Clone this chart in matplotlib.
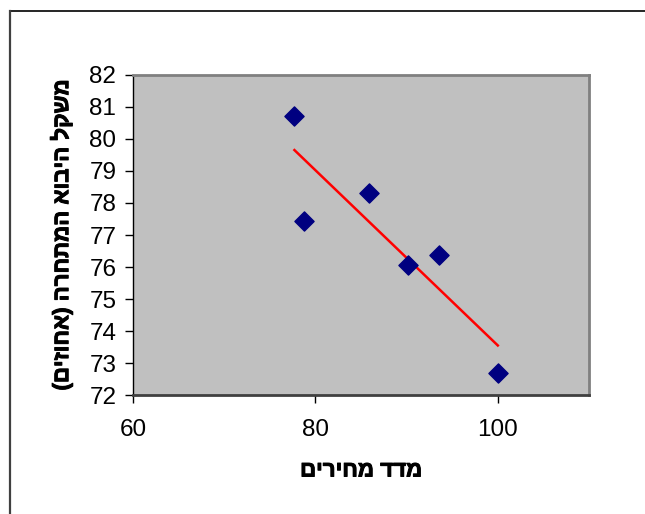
import matplotlib
matplotlib.use("Agg")
import matplotlib.pyplot as plt
import matplotlib.patheffects as pe
from matplotlib.lines import Line2D
import numpy as np

# נתונים (נקראו מהגרף)
price_index = [77.7, 78.8, 85.9, 90.1, 93.5, 100.0]
import_share = [80.71, 77.43, 78.30, 76.05, 76.36, 72.70]
x_ticks = [60, 80, 100]
y_ticks = list(range(72, 83))
x_title = "מדד מחירים"
y_title = "משקל היבוא המתחרה (אחוזים)"


def rtl(s):
    # matplotlib has no bidi: reverse to visual order and mirror brackets
    swap = {"(": ")", ")": "("}
    return "".join(swap.get(c, c) for c in s[::-1])


plt.rcParams["font.family"] = ["Liberation Sans", "DejaVu Sans"]

fig = plt.figure(figsize=(6.45, 5.14), dpi=100)
ax = fig.add_axes([0.2062, 0.2315, 0.7070, 0.6226])
ax.set_facecolor("#C0C0C0")

ax.scatter(price_index, import_share, marker="D", s=95, color="#000080",
           edgecolors="#000080", zorder=3)

# linear trendline over the data range
k, b = np.polyfit(price_index, import_share, 1)
xs = np.array([min(price_index), max(price_index)])
ax.plot(xs, k * xs + b, color="#FF0000", linewidth=1.8, zorder=2)

ax.set_xlim(60, 110)
ax.set_ylim(72, 82)
ax.set_xticks(x_ticks)
ax.set_yticks(y_ticks)
ax.tick_params(axis="both", direction="out", length=6, width=1, color="black",
               labelsize=17.5)
ax.tick_params(axis="y", pad=6)
ax.tick_params(axis="x", pad=11)

for side in ["top", "right"]:
    ax.spines[side].set_color("#808080")
    ax.spines[side].set_linewidth(2)
ax.spines["bottom"].set_color("#404040")
ax.spines["bottom"].set_linewidth(2)
ax.spines["left"].set_color("black")
ax.spines["left"].set_linewidth(1)

bold = [pe.withStroke(linewidth=0.7, foreground="black")]
fig.text(0.560, 1 - 471 / 514, rtl(x_title), ha="center", va="center",
         fontsize=16, fontweight="bold", path_effects=bold)
fig.text(62 / 645, 1 - 235 / 514, rtl(y_title), ha="center", va="center",
         rotation=90, fontsize=16, fontweight="bold", path_effects=bold)

# chart frame (top and left edges only are visible)
fig.add_artist(Line2D([10 / 645, 1], [1 - 11 / 514, 1 - 11 / 514],
                      transform=fig.transFigure, color="black", linewidth=1.2))
fig.add_artist(Line2D([10 / 645, 10 / 645], [0, 1 - 11 / 514],
                      transform=fig.transFigure, color="#404040", linewidth=1.6))

fig.savefig("out.png", dpi=100)
plt.close(fig)
print("saved: out.png")
